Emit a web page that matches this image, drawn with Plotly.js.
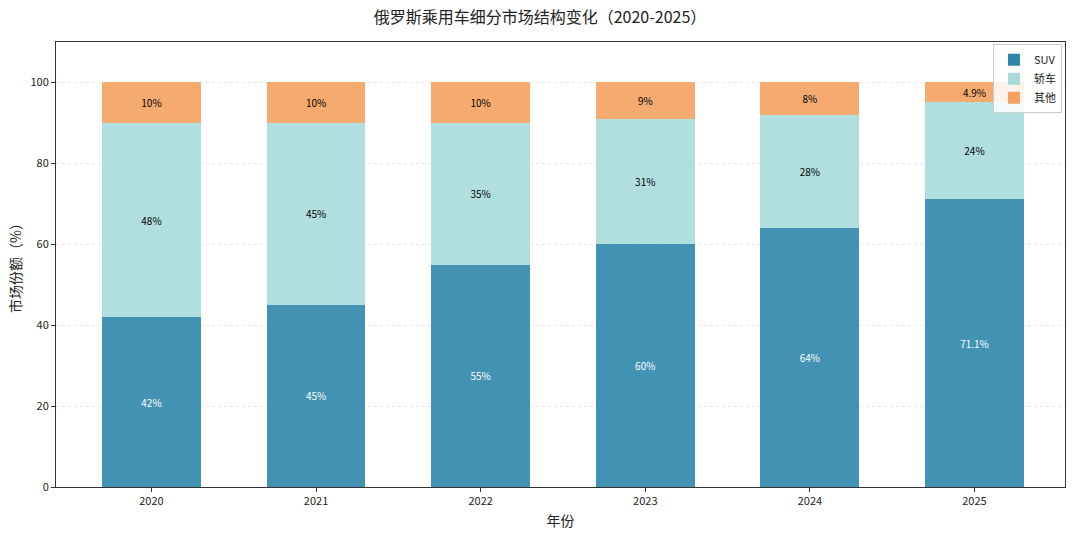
<!DOCTYPE html>
<html>
<head>
<meta charset="utf-8">
<script src="https://cdn.plot.ly/plotly-3.0.1.min.js"></script>
<style>html,body{margin:0;padding:0;background:#fff;}#chart{width:1080px;height:535px;}</style>
</head>
<body>
<div id="chart"></div>
<script>
const years = ['2020', '2021', '2022', '2023', '2024', '2025'];
const suv = [42, 45, 55, 60, 64, 71.1];
const sedan = [48, 45, 35, 31, 28, 24];
const other = [10, 10, 10, 9, 8, 4.9];
const seriesNames = ['SUV', '轿车', '其他'];
const FONT = 'Noto Sans CJK SC, sans-serif';

function mk(name, vals, color, tcolor) {
  return {
    type: 'bar', name: name, x: years, y: vals,
    width: 0.6,
    marker: {color: color, opacity: 0.9, line: {width: 0}},
    text: vals.map(v => v + '%'),
    texttemplate: '%{text}',
    textposition: 'inside', insidetextanchor: 'middle', textangle: 0,
    constraintext: 'none',
    textfont: {family: FONT, size: 10, color: tcolor},
    hoverinfo: 'skip'
  };
}

const data = [
  mk(seriesNames[0], suv, '#2E86AB', '#ffffff'),
  mk(seriesNames[1], sedan, '#A8DADC', '#000000'),
  mk(seriesNames[2], other, '#F4A261', '#000000')
];

const layout = {
  width: 1080, height: 535,
  barmode: 'stack',
  paper_bgcolor: '#fff', plot_bgcolor: '#fff',
  margin: {l: 56, r: 15, t: 42, b: 48},
  font: {family: FONT, size: 11, color: '#222'},
  title: {text: '俄罗斯乘用车细分市场结构变化（2020-2025）', x: 0.5, xanchor: 'center', y: 0.967, yanchor: 'middle', font: {family: FONT, size: 16, color: '#222'}},
  xaxis: {
    type: 'category', range: [-0.58, 5.55],
    title: {text: '年份', font: {family: FONT, size: 14, color: '#222'}, standoff: 8},
    showline: true, linecolor: '#333', linewidth: 1, mirror: true,
    ticks: 'outside', ticklen: 4, tickcolor: '#333',
    tickfont: {family: FONT, size: 11, color: '#222'},
    showgrid: false, zeroline: false
  },
  yaxis: {
    range: [0, 110],
    tickvals: [0, 20, 40, 60, 80, 100],
    title: {text: '市场份额（%）', font: {family: FONT, size: 14, color: '#222'}, standoff: 5},
    showline: true, linecolor: '#333', linewidth: 1, mirror: true,
    ticks: 'outside', ticklen: 4, tickcolor: '#333',
    tickfont: {family: FONT, size: 11, color: '#222'},
    showgrid: true, gridcolor: 'rgba(0,0,0,0.09)', griddash: '3px,3px', gridwidth: 1,
    zeroline: false
  },
  legend: {
    x: 0.997, y: 0.995, xanchor: 'right', yanchor: 'top',
    bgcolor: 'rgba(255,255,255,0.85)', bordercolor: '#ccc', borderwidth: 1,
    font: {family: FONT, size: 11, color: '#222'},
    traceorder: 'normal', itemwidth: 30, tracegroupgap: 0
  },
  showlegend: true
};

Plotly.newPlot('chart', data, layout, {displayModeBar: false, staticPlot: true});
</script>
</body>
</html>
